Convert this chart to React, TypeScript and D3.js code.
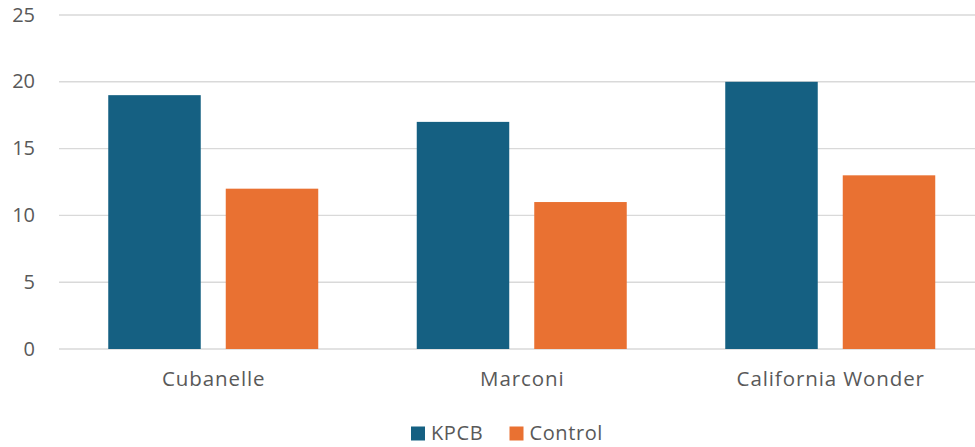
import React from "react";
import * as d3 from "d3";

const categories = ["Cubanelle", "Marconi", "California Wonder"];
const seriesNames = ["KPCB", "Control"];
const kpcbValues = [19, 17, 20];
const controlValues = [12, 11, 13];
const yTicks = [0, 5, 10, 15, 20, 25];

const colors: Record<string, string> = { KPCB: "#156082", Control: "#E97132" };
const W = 975;
const H = 447;
const FONT = "'Open Sans', sans-serif";
const TEXT = "#595959";

export default function App() {
  const x = d3.scaleBand<string>().domain(categories).range([59, 984.5]).paddingInner(0).paddingOuter(0);
  const bw = x.bandwidth();
  const inner = d3
    .scaleBand<string>()
    .domain(seriesNames)
    .range([bw * 0.15964, bw * 0.15964 + bw * 0.6807])
    .paddingInner(0.2128)
    .paddingOuter(0);
  const y = d3.scaleLinear().domain([0, 25]).range([349, 15]);
  const valuesBySeries: Record<string, number[]> = { KPCB: kpcbValues, Control: controlValues };

  return (
    <svg width={W} height={H} style={{ position: "absolute", left: 0, top: 0, background: "#fff" }}>
      {yTicks.map((t) => (
        <g key={t}>
          <line x1={59} x2={W} y1={y(t)} y2={y(t)} stroke="#D9D9D9" strokeWidth={1.4} />
          <text x={35} y={y(t) + 6.5} textAnchor="end" fontFamily={FONT} fontSize={20} fill={TEXT}>
            {t}
          </text>
        </g>
      ))}
      {categories.map((c, i) => (
        <g key={c} transform={`translate(${x(c)},0)`}>
          {seriesNames.map((s) => {
            const v = valuesBySeries[s][i];
            return (
              <rect
                key={s}
                x={inner(s)}
                y={y(v)}
                width={inner.bandwidth()}
                height={y(0) - y(v)}
                fill={colors[s]}
              />
            );
          })}
          <text
            x={bw / 2 + 0.5}
            y={386}
            textAnchor="middle"
            fontFamily={FONT}
            fontSize={20.5}
            letterSpacing={0.9}
            fill={TEXT}
          >
            {c}
          </text>
        </g>
      ))}
      <g>
        {seriesNames.map((s, i) => {
          const lx = [411, 509.5][i];
          return (
            <g key={s}>
              <rect x={lx} y={426.5} width={14} height={14} fill={colors[s]} />
              <text x={lx + 20} y={440} fontFamily={FONT} fontSize={20} letterSpacing={0.6} fill={TEXT}>
                {s}
              </text>
            </g>
          );
        })}
      </g>
    </svg>
  );
}
